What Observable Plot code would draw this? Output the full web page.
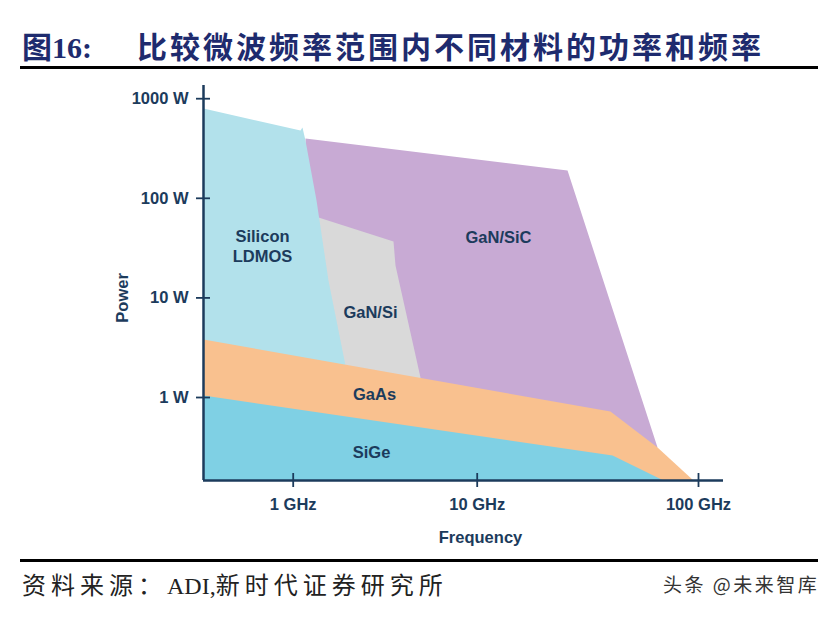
<!DOCTYPE html>
<html>
<head>
<meta charset="utf-8">
<script src="https://cdn.jsdelivr.net/npm/d3@7"></script>
<script src="https://cdn.jsdelivr.net/npm/@observablehq/plot@0.6"></script>
<style>
  html, body { margin: 0; padding: 0; background: #fff; }
  body { width: 833px; height: 619px; overflow: hidden; }
  #header { position: relative; height: 75px; }
  #fig { position: absolute; left: 22px; top: 28px; line-height: 34px; font-size: 30px; font-weight: 700; color: #1e2b6e; white-space: nowrap; }
  #fig .cjk { font-family: "Noto Sans CJK SC"; }
  #fig .num { font-family: "Liberation Serif", serif; }
  #ttl { position: absolute; left: 137px; top: 28px; line-height: 34px; font-size: 30px; letter-spacing: 3px; font-weight: 700; color: #1e2b6e; white-space: nowrap; font-family: "Noto Sans CJK SC"; }
  #rule1 { position: absolute; left: 20px; top: 66px; width: 798px; height: 3px; background: #000; }
  #chart { height: 480px; }
  #chart svg { display: block; }
  #footer { position: relative; height: 64px; }
  #rule2 { position: absolute; left: 20px; top: 4px; width: 798px; height: 2.5px; background: #000; }
  #src { position: absolute; left: 22px; top: 14px; line-height: 30px; font-size: 24px; letter-spacing: 5px; color: #222; white-space: nowrap; font-family: "Noto Sans CJK SC"; font-weight: 400; }
  #src .lat { font-family: "Liberation Serif", serif; letter-spacing: 0; }
  #wm { position: absolute; left: 663px; top: 16px; line-height: 26px; font-size: 19px; letter-spacing: 2.5px; color: #333; white-space: nowrap; font-family: "Noto Sans CJK SC"; }
</style>
</head>
<body>
<div id="header">
  <div id="fig"><span class="cjk">图</span><span class="num">16:</span></div>
  <div id="ttl">比较微波频率范围内不同材料的功率和频率</div>
  <div id="rule1"></div>
</div>
<div id="chart"></div>
<div id="footer">
  <div id="rule2"></div>
  <div id="src">资料来源：<span class="lat">ADI,</span>新时代证券研究所</div>
  <div id="wm">头条 @未来智库</div>
</div>
<script>
// ---- Data (frequency in GHz, power in W) ----
const materials = ["GaN/SiC", "GaN/Si", "Silicon LDMOS", "GaAs", "SiGe"];
const colors    = ["#c8aad4", "#d9d9d9", "#b2e1eb", "#f9c18f", "#7fd0e4"];

const ganSicFreq  = [1.166, 25.6, 65.3, 54.7, 4.918, 1.166];
const ganSicPower = [398.5, 190, 0.315, 0.315, 0.933, 0.933];

const ganSiFreq  = [1.242, 1.373, 3.509, 3.597, 4.918, 5.04, 1.595];
const ganSiPower = [64.2, 64.2, 36.8, 21.1, 1.588, 1.05, 1.05];

const siliconFreq  = [0.3255, 1.096, 1.123, 1.166, 1.339, 1.555, 1.924, 2.048, 0.3255];
const siliconPower = [797, 479, 514, 380, 95, 14.95, 2.096, 0.9, 0.9];

const gaasFreq  = [0.3255, 40.0, 65.3, 94.9, 0.3255];
const gaasPower = [3.822, 0.7236, 0.315, 0.1468, 0.1468];

const sigeFreq  = [0.3255, 40.9, 69.5, 0.3255];
const sigePower = [1.047, 0.2617, 0.1468, 0.1468];

const labelText  = ["GaN/SiC", "GaN/Si", "Silicon\nLDMOS", "GaAs", "SiGe"];
const labelFreq  = [12.48, 2.63, 0.681, 2.766, 2.665];
const labelPower = [41.4, 7.30, 33.6, 1.097, 0.287];

const xTicks = [1, 10, 100];
const xTickLabels = ["1 GHz", "10 GHz", "100 GHz"];
const yTicks = [1, 10, 100, 1000];
const yTickLabels = ["1 W", "10 W", "100 W", "1000 W"];

const xDomain = [0.3255, 1, 10, 100, 129.7];
const xRange  = [203, 292.7, 476.7, 698, 723];
const yDomain = [0.1468, 1357];

// ---- Build tables ----
const shapeSets = [
  [ganSicFreq, ganSicPower],
  [ganSiFreq, ganSiPower],
  [siliconFreq, siliconPower],
  [gaasFreq, gaasPower],
  [sigeFreq, sigePower]
];
const polys = shapeSets.map(([f, p], k) => f.map((v, i) => ({material: materials[k], f: v, p: p[i]})));
const labels = labelText.map((t, i) => ({t, f: labelFreq[i], p: labelPower[i]}));

const navy = "#1c3b5c";
const font = "'Liberation Sans', Arial, sans-serif";
const fs = 16.5;

const chart = Plot.plot({
  width: 833,
  height: 480,
  marginLeft: 203,
  marginRight: 110,
  marginTop: 10,
  marginBottom: 75,
  style: {fontFamily: font, fontSize: fs + "px", fontWeight: "bold", color: navy, background: "#fff"},
  x: {type: "log", domain: xDomain, range: xRange},
  y: {type: "log", domain: yDomain},
  marks: [
    ...polys.map((d, k) => Plot.line(d, {x: "f", y: "p", fill: colors[k], stroke: "none", curve: "linear"})),
    Plot.text(labels, {x: "f", y: "p", text: "t", fill: navy, fontSize: fs, fontWeight: "bold", lineHeight: 1.2}),
    Plot.ruleX([xDomain[0]], {stroke: navy, strokeWidth: 2.5}),
    Plot.ruleY([yDomain[0]], {stroke: navy, strokeWidth: 2.5}),
    Plot.axisY(yTicks, {anchor: "left", tickSize: 14, dx: 7, tickPadding: 8, strokeWidth: 1.8, stroke: navy, fill: navy,
      tickFormat: d => yTickLabels[yTicks.indexOf(d)], label: null, fontSize: fs, fontWeight: "bold"}),
    Plot.axisX(xTicks, {anchor: "bottom", tickSize: 14, dy: -7, tickPadding: 11, strokeWidth: 1.8, stroke: navy, fill: navy,
      tickFormat: d => xTickLabels[xTicks.indexOf(d)], label: null, fontSize: fs, fontWeight: "bold"}),
    Plot.text(["Frequency"], {x: 10.35, y: yDomain[0], dy: 57, fill: navy, fontSize: fs, fontWeight: "bold"}),
    Plot.text(["Power"], {x: xDomain[0], y: 10, dx: -81, rotate: -90, fill: navy, fontSize: fs, fontWeight: "bold"})
  ]
});
document.getElementById("chart").appendChild(chart);
</script>
</body>
</html>
